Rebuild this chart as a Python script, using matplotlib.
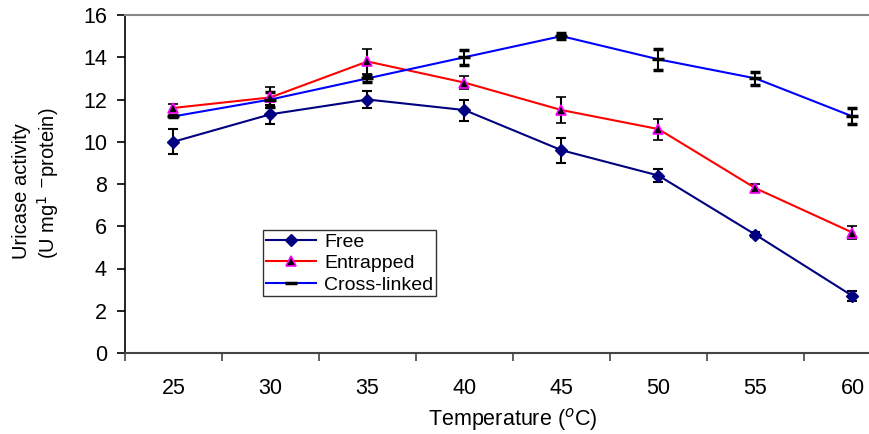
import numpy as np
import matplotlib.pyplot as plt
from matplotlib.lines import Line2D

plt.rcParams['font.family'] = ['Liberation Sans', 'DejaVu Sans']

temps = ['25', '30', '35', '40', '45', '50', '55', '60']
free = [10.0, 11.3, 12.0, 11.5, 9.6, 8.4, 5.6, 2.7]
free_err = [0.6, 0.45, 0.4, 0.5, 0.6, 0.3, 0.12, 0.25]
entrapped = [11.6, 12.1, 13.8, 12.8, 11.5, 10.6, 7.8, 5.7]
entrapped_err = [0.2, 0.5, 0.6, 0.3, 0.6, 0.5, 0.2, 0.3]
crosslinked = [11.2, 12.0, 13.0, 14.0, 15.0, 13.9, 13.0, 11.2]
crosslinked_err = [0.05, 0.35, 0.15, 0.35, 0.15, 0.5, 0.3, 0.38]

fig = plt.figure(figsize=(8.7, 4.34), dpi=100)
ax = fig.add_axes([125/870, 81/434, 776/870, 338/434])

x = np.arange(len(temps))
eb = dict(ecolor='black', elinewidth=1.5, capsize=3.8, capthick=1.5)

ax.errorbar(x, free, yerr=free_err, color='#000080', lw=1.5, marker='D', ms=6,
            mfc='#000080', mec='#000080', **eb)
ax.errorbar(x, entrapped, yerr=entrapped_err, color='#ff0000', lw=1.5, marker='^', ms=7,
            mfc='black', mec='#ff00ff', mew=1.2, **eb)
ax.errorbar(x, crosslinked, yerr=crosslinked_err, color='#0000ff', lw=1.5, marker='_', ms=8,
            mfc='black', mec='black', mew=2.5, **eb)

ax.set_xlim(-0.5, 7.5)
ax.set_ylim(0, 16)
ax.set_yticks(np.arange(0, 17, 2))
ax.set_xticks(np.arange(-0.5, 8, 1))
ax.set_xticklabels([])
ax.set_xticks(x, minor=True)
ax.set_xticklabels(temps, minor=True)
ax.tick_params(axis='x', which='minor', length=0, pad=18, labelsize=15.5)
ax.tick_params(axis='x', which='major', direction='out', length=6, width=1.2, color='#444444')
ax.tick_params(axis='y', direction='out', length=6, width=1.2, labelsize=15.5, pad=7)

ax.spines['left'].set_color('black')
ax.spines['left'].set_linewidth(1.2)
ax.spines['bottom'].set_color('#444444')
ax.spines['bottom'].set_linewidth(1.5)
ax.spines['top'].set_color('#888888')
ax.spines['top'].set_linewidth(1.5)
ax.spines['right'].set_visible(False)

ax.set_xlabel('Temperature ($^{o}$C)', fontsize=15.5, labelpad=5)
fig.text(0.014, 0.578, 'Uricase activity\n(U mg$^{1}$ $^{-}$protein)', rotation=90,
         ha='left', va='center', fontsize=14.5, linespacing=1.2)

handles = [
    Line2D([], [], color='#000080', lw=1.5, marker='D', ms=6, mfc='#000080', mec='#000080'),
    Line2D([], [], color='#ff0000', lw=1.5, marker='^', ms=7, mfc='black', mec='#ff00ff', mew=1.2),
    Line2D([], [], color='#0000ff', lw=1.5, marker='_', ms=8, mfc='black', mec='black', mew=2.5),
]
leg = ax.legend(handles, ['Free', 'Entrapped', 'Cross-linked'], loc='upper left',
                bbox_to_anchor=(138/776, 123/338), frameon=True, fancybox=False,
                edgecolor='black', fontsize=14, handlelength=2.6, borderpad=0.15,
                labelspacing=0.2, handletextpad=0.4, borderaxespad=0)
leg.get_frame().set_linewidth(1.0)

fig.savefig('out.png', dpi=100)
